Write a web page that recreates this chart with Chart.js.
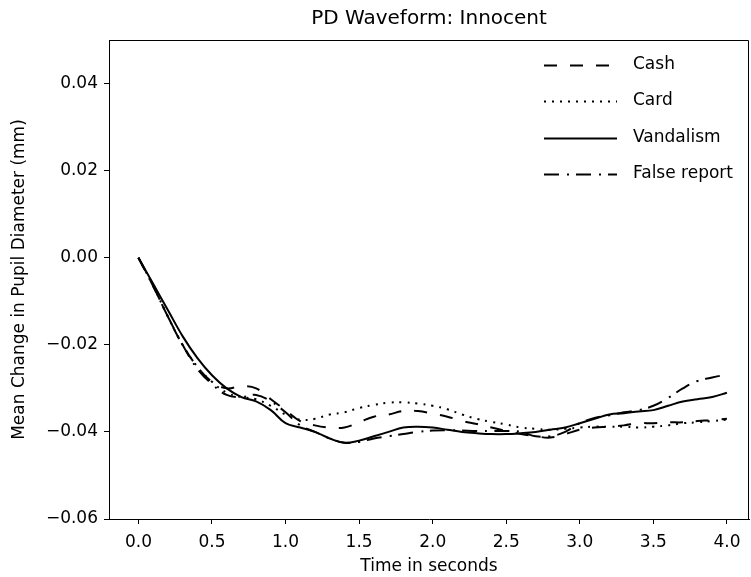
<!DOCTYPE html>
<html>
<head>
<meta charset="utf-8">
<script src="https://cdn.jsdelivr.net/npm/chart.js@4.4.1/dist/chart.umd.min.js"></script>
<style>
  html, body { margin: 0; padding: 0; background: #fff; }
  canvas { display: block; }
</style>
</head>
<body>
<canvas id="pdChart" width="751" height="577"></canvas>
<script>
// ================================
// DATA
// ================================

const times = [0, 0.1, 0.2, 0.3, 0.4, 0.5, 0.6, 0.7, 0.8, 0.9, 1.0, 1.1, 1.2, 1.3, 1.4, 1.5, 1.6, 1.7, 1.8, 1.9,
    2.0, 2.1, 2.2, 2.3, 2.4, 2.5, 2.6, 2.7, 2.8, 2.9, 3.0, 3.1, 3.2, 3.3, 3.4, 3.5, 3.6, 3.7, 3.8, 3.9, 4.0];

const cash = [0, -0.0065, -0.0135, -0.020, -0.025, -0.0285, -0.030, -0.0295, -0.030, -0.0325, -0.035,
    -0.0375, -0.0385, -0.039, -0.039, -0.0378, -0.0365, -0.036, -0.0352, -0.0352, -0.0358,
    -0.0365, -0.0375, -0.0382, -0.039, -0.0398, -0.0405, -0.041, -0.0413, -0.0405, -0.0395,
    -0.039, -0.0388, -0.0385, -0.038, -0.038, -0.0378, -0.0378, -0.0375, -0.0373, -0.037];

const card = [0, -0.0065, -0.0135, -0.020, -0.025, -0.0285, -0.031, -0.032, -0.0325, -0.034, -0.036,
    -0.0372, -0.037, -0.036, -0.0355, -0.0345, -0.0338, -0.0333, -0.0332, -0.0335, -0.034,
    -0.0348, -0.036, -0.037, -0.0377, -0.0383, -0.039, -0.0393, -0.0395, -0.0393, -0.039,
    -0.0388, -0.0388, -0.0388, -0.039, -0.0388, -0.0385, -0.038, -0.0378, -0.0375, -0.0372];

const vandalism = [0, -0.006, -0.012, -0.018, -0.023, -0.027, -0.030, -0.032, -0.033, -0.035, -0.038,
    -0.039, -0.040, -0.0415, -0.0425, -0.042, -0.041, -0.040, -0.039, -0.0388, -0.039,
    -0.0395, -0.040, -0.0403, -0.0405, -0.0405, -0.0403, -0.040, -0.0395, -0.039, -0.038,
    -0.037, -0.036, -0.0357, -0.0353, -0.035, -0.034, -0.033, -0.0325, -0.032, -0.031];

const falseReport = [0, -0.0065, -0.0135, -0.020, -0.0255, -0.029, -0.0315, -0.032, -0.0315, -0.033, -0.0355,
    -0.0385, -0.040, -0.0415, -0.0425, -0.0423, -0.0415, -0.041, -0.0405, -0.040, -0.0397,
    -0.0396, -0.0397, -0.0398, -0.0398, -0.0398, -0.040, -0.041, -0.041, -0.040, -0.038,
    -0.0368, -0.0362, -0.0355, -0.035, -0.034, -0.0322, -0.030, -0.0283, -0.0275, -0.0268];

const seriesLabels = ['Cash', 'Card', 'Vandalism', 'False report'];
const xTicks = [0, 0.5, 1.0, 1.5, 2.0, 2.5, 3.0, 3.5, 4.0];
const yTicks = [-0.06, -0.04, -0.02, 0, 0.02, 0.04];

// ================================
// STYLE
// ================================

const FONT = 'DejaVu Sans';
const dashes = [[13, 13], [2, 6], [], [15, 8, 2, 7]];

function toPoints(values) {
    return times.map((t, i) => ({ x: t, y: values[i] }));
}

const allSeries = [cash, card, vandalism, falseReport];

const datasets = allSeries.map((values, i) => ({
    label: seriesLabels[i],
    data: toPoints(values),
    borderColor: '#000',
    borderWidth: 2,
    borderDash: dashes[i],
    pointRadius: 0,
    tension: 0.4,
    fill: false
}));

// title, top/right spines and the in-plot legend
const decorations = {
    id: 'decorations',
    afterDraw(chart) {
        const ctx = chart.ctx;
        const area = chart.chartArea;
        ctx.save();

        // spines
        ctx.strokeStyle = '#000';
        ctx.lineWidth = 1;
        ctx.setLineDash([]);
        ctx.beginPath();
        ctx.moveTo(Math.round(area.left) + 0.5, Math.round(area.top) + 0.5);
        ctx.lineTo(Math.round(area.right) - 0.5, Math.round(area.top) + 0.5);
        ctx.lineTo(Math.round(area.right) - 0.5, Math.round(area.bottom) + 0.5);
        ctx.stroke();

        // title
        ctx.fillStyle = '#000';
        ctx.font = `20px '${FONT}'`;
        ctx.textAlign = 'center';
        ctx.textBaseline = 'middle';
        ctx.fillText('PD Waveform: Innocent', (area.left + area.right) / 2, 19);

        // legend
        ctx.font = `17px '${FONT}'`;
        ctx.textAlign = 'left';
        const rowY = [65, 101, 138, 174];
        seriesLabels.forEach((label, i) => {
            const y = rowY[i];
            ctx.lineWidth = 2;
            ctx.setLineDash(dashes[i]);
            ctx.beginPath();
            ctx.moveTo(544, y + 0.5);
            ctx.lineTo(617, y + 0.5);
            ctx.stroke();
            ctx.setLineDash([]);
            ctx.fillText(label, 633, y);
        });
        ctx.restore();
    }
};

const tickFont = { family: FONT, size: 17 };

new Chart(document.getElementById('pdChart'), {
    type: 'line',
    data: { datasets },
    options: {
        responsive: false,
        animation: false,
        devicePixelRatio: 1,
        layout: { padding: { top: 40, right: 2, left: 0, bottom: 0 } },
        plugins: {
            legend: { display: false },
            title: { display: false },
            tooltip: { enabled: false }
        },
        scales: {
            x: {
                type: 'linear',
                min: -0.2,
                max: 4.15,
                afterBuildTicks: (scale) => { scale.ticks = xTicks.map(v => ({ value: v })); },
                afterFit: (scale) => { scale.height = 58; },
                ticks: {
                    color: '#000',
                    font: tickFont,
                    padding: 8,
                    maxRotation: 0,
                    callback: (v) => Number(v).toFixed(1)
                },
                grid: { drawOnChartArea: false, drawTicks: true, tickLength: 5, color: '#000' },
                border: { display: true, color: '#000', width: 1 },
                title: {
                    display: true,
                    text: 'Time in seconds',
                    color: '#000',
                    font: { family: FONT, size: 17 },
                    padding: { top: 0, bottom: 0 }
                }
            },
            y: {
                type: 'linear',
                min: -0.06,
                max: 0.05,
                afterBuildTicks: (scale) => { scale.ticks = yTicks.map(v => ({ value: v })); },
                afterFit: (scale) => { scale.width = 109; },
                ticks: {
                    color: '#000',
                    font: tickFont,
                    padding: 6,
                    callback: (v) => (v < -1e-9 ? '\u2212' : '') + Math.abs(v).toFixed(2)
                },
                grid: { drawOnChartArea: false, drawTicks: true, tickLength: 5, color: '#000' },
                border: { display: true, color: '#000', width: 1 },
                title: {
                    display: true,
                    text: 'Mean Change in Pupil Diameter (mm)',
                    color: '#000',
                    font: { family: FONT, size: 17 },
                    padding: { top: 9, bottom: 0 }
                }
            }
        }
    },
    plugins: [decorations]
});
</script>
</body>
</html>
